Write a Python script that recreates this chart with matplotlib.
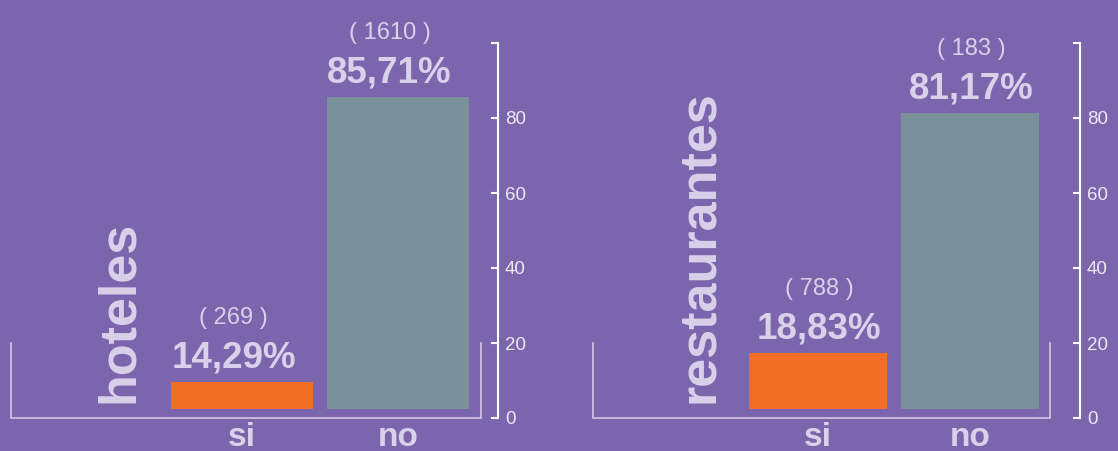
import matplotlib
matplotlib.use('Agg')
import matplotlib.pyplot as plt

# data
categories = ['si', 'no']
panel_names = ['hoteles', 'restaurantes']
pct_hoteles = [14.29, 85.71]
pct_restaurantes = [18.83, 81.17]
count_hoteles = [269, 1610]
count_restaurantes = [788, 183]
# bar tops as drawn in the picture (right axis scale)
top_hoteles = [9.6, 85.6]
top_restaurantes = [17.3, 81.3]
bar_base = 2.4
y_ticks = [0, 20, 40, 60, 80, 100]
y_ticklabels = ['0', '20', '40', '60', '80', '']

BG = '#7B66AD'
ORANGE = '#F26E22'
GREY = '#7A909B'
LAV = '#D9D1EA'
TICK = '#ECE8F4'

W, H = 1118, 451
fig = plt.figure(figsize=(W / 100, H / 100), dpi=100, facecolor=BG)
plt.rcParams['font.family'] = ['Liberation Sans', 'DejaVu Sans']


def px_y(p):
    return (H - p) / H


def panel(left_px, right_px, c_si, c_no, bw_px, bracket_px, name_px, name,
          pcts, counts, tops, lab_dx):
    ax = fig.add_axes([left_px / W, px_y(418), (right_px - left_px) / W,
                       (418 - 43) / H])
    ax.set_facecolor('none')
    unit = c_no - c_si
    ax.set_xlim((left_px - c_si) / unit, (right_px - c_si) / unit)
    ax.set_ylim(0, 100)
    x = [0, 1]
    heights = [t - bar_base for t in tops]
    ax.bar(x, heights, bottom=bar_base, width=bw_px / unit,
           color=[ORANGE, GREY], linewidth=0)

    for xi, t, p, c in zip(x, tops, pcts, counts):
        ax.annotate(('%.2f%%' % p).replace('.', ','), (xi, t),
                    xytext=(lab_dx, 10.5), textcoords='offset points',
                    ha='center', va='baseline', color=LAV,
                    fontsize=26.5, fontweight='bold')
        ax.annotate('( %d )' % c, (xi, t), xytext=(lab_dx, 42),
                    textcoords='offset points', ha='center', va='baseline',
                    color=LAV, fontsize=17)

    for xi, cat in zip(x, categories):
        ax.text(xi, -7.6, cat, ha='center', va='baseline', color=LAV,
                fontsize=24, fontweight='bold')

    # bracket underneath the bars
    b0 = (left_px - c_si) / unit
    b1 = (bracket_px - c_si) / unit
    ax.plot([b0, b0, b1, b1], [20, 0, 0, 20], color=LAV, lw=1.1,
            clip_on=False, solid_joinstyle='miter')

    ax.text((name_px - c_si) / unit, (418 - 403) / 3.75, name, rotation=90,
            rotation_mode='anchor', ha='left', va='baseline', color=LAV,
            fontsize=37.5, fontweight='bold')

    for s in ['top', 'left', 'bottom']:
        ax.spines[s].set_visible(False)
    ax.spines['right'].set_color('white')
    ax.spines['right'].set_linewidth(1.5)
    ax.spines['right'].set_bounds(0, 100)
    ax.yaxis.tick_right()
    ax.set_yticks(y_ticks)
    ax.set_yticklabels(y_ticklabels)
    ax.tick_params(axis='y', direction='in', length=5, width=1.5,
                   colors='white', labelcolor=TICK, labelsize=13.5, pad=5)
    ax.set_xticks([])
    return ax


panel(11, 498, 242, 398, 142, 481, 133, panel_names[0],
      pct_hoteles, count_hoteles, top_hoteles, -6)
panel(593, 1080, 818, 970, 138, 1050, 713, panel_names[1],
      pct_restaurantes, count_restaurantes, top_restaurantes, 1)

fig.savefig('out.png', dpi=100, facecolor=BG)
